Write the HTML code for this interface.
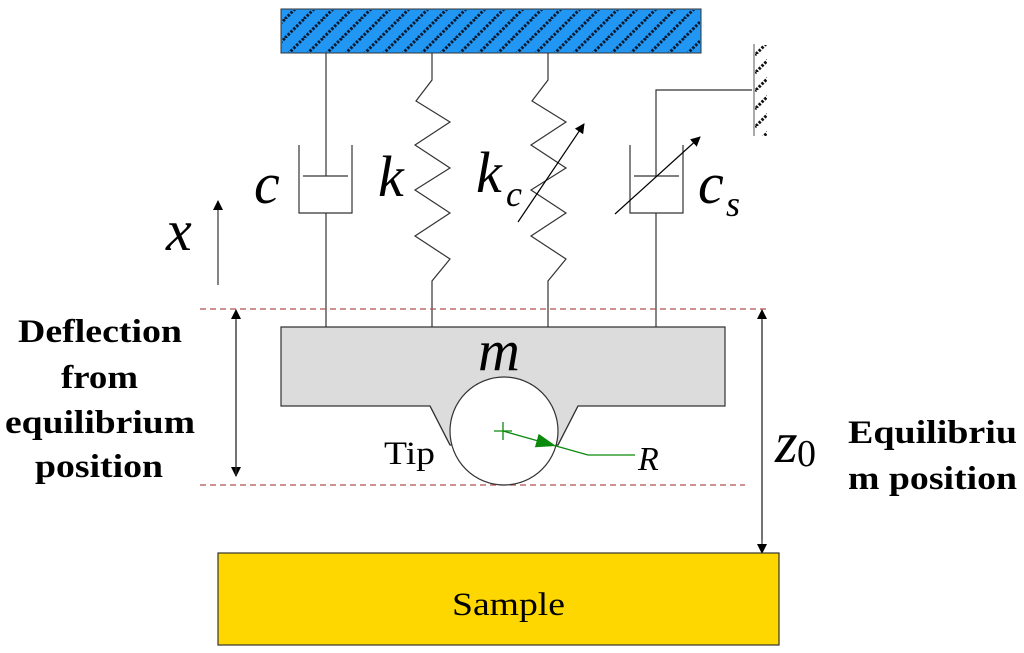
<!DOCTYPE html>
<html><head><meta charset="utf-8"><style>
html,body{margin:0;padding:0;background:#fff;}
svg{display:block;}
text{font-family:"Liberation Serif",serif;}
</style></head><body>
<svg width="1024" height="653" viewBox="0 0 1024 653" xmlns="http://www.w3.org/2000/svg">
<defs>
<pattern id="h" patternUnits="userSpaceOnUse" width="19" height="19">
<line x1="0" y1="19" x2="19" y2="0" stroke="#0a1a30" stroke-width="3" stroke-dasharray="2.5 1.5"/>
<line x1="-19" y1="19" x2="0" y2="0" stroke="#0a1a30" stroke-width="3" stroke-dasharray="2.5 1.5"/>
<line x1="19" y1="19" x2="38" y2="0" stroke="#0a1a30" stroke-width="3" stroke-dasharray="2.5 1.5"/>
</pattern>
<pattern id="w" patternUnits="userSpaceOnUse" width="18" height="18">
<line x1="0" y1="18" x2="18" y2="0" stroke="#111" stroke-width="3" stroke-dasharray="2.5 1.5"/>
<line x1="-18" y1="18" x2="0" y2="0" stroke="#111" stroke-width="3" stroke-dasharray="2.5 1.5"/>
<line x1="18" y1="18" x2="36" y2="0" stroke="#111" stroke-width="3" stroke-dasharray="2.5 1.5"/>
</pattern>
<marker id="a" markerWidth="10" markerHeight="10" refX="9" refY="5" orient="auto" markerUnits="userSpaceOnUse"><path d="M0,0 L10,5 L0,10 z" fill="#000"/></marker>
<marker id="g" markerWidth="22" markerHeight="14" refX="20" refY="7" orient="auto" markerUnits="userSpaceOnUse"><path d="M0,0 L20,7 L0,14 z" fill="#0a8a0a"/></marker>
</defs>
<rect x="281" y="9" width="420" height="44" fill="#2196f3" stroke="#333" stroke-width="1"/>
<rect x="282" y="10" width="418" height="42" fill="url(#h)"/>
<rect x="755" y="45" width="12" height="91" fill="url(#w)"/>
<line x1="754" y1="44" x2="754" y2="136" stroke="#555" stroke-width="1"/>
<g stroke="#333" stroke-width="1.2" fill="none">
<line x1="326" y1="53" x2="326" y2="176"/>
<polyline points="299,145 299,213 352,213 352,145"/>
<line x1="303" y1="176" x2="348" y2="176"/>
<line x1="326" y1="213" x2="326" y2="327"/>
<polyline points="432,53 432,80 416,101 450,122 415,145 450,168 415,190 450,213 415,236 450,259 432,281 432,327"/>
<polyline points="548,53 548,80 532,101 566,122 531,145 566,168 531,190 566,213 531,236 566,259 548,281 548,327"/>
<polyline points="752,90 656,90 656,176"/>
<polyline points="630,145 630,213 683,213 683,145"/>
<line x1="634" y1="176" x2="679" y2="176"/>
<line x1="656" y1="213" x2="656" y2="327"/>
</g>
<line x1="518" y1="222" x2="584" y2="124" stroke="#000" stroke-width="1.2" marker-end="url(#a)"/>
<line x1="615" y1="214" x2="700" y2="137" stroke="#000" stroke-width="1.2" marker-end="url(#a)"/>
<line x1="200" y1="309" x2="768" y2="309" stroke="#b05050" stroke-width="1.2" stroke-dasharray="6 4"/>
<line x1="200" y1="485" x2="745" y2="485" stroke="#b05050" stroke-width="1.2" stroke-dasharray="6 4"/>
<path d="M281,327 H725 V406 H578 L558,445 L450,445 L430,406 H281 Z" fill="#dcdcdc" stroke="#333" stroke-width="1.2"/>
<circle cx="504" cy="431" r="54" fill="#fff" stroke="#333" stroke-width="1.2"/>
<path d="M430,406 L450,445" stroke="#333" stroke-width="1.2"/>
<path d="M578,406 L558,445" stroke="#333" stroke-width="1.2"/>
<g stroke="#0a8a0a" stroke-width="1.3" fill="none">
<line x1="494" y1="431" x2="512" y2="431"/>
<line x1="503" y1="422" x2="503" y2="440"/>
<line x1="503" y1="431" x2="556" y2="446" marker-end="url(#g)"/>
<polyline points="556,446 588,455 635,455"/>
</g>
<line x1="218" y1="285" x2="218" y2="201" stroke="#333" stroke-width="1.2" marker-end="url(#a)"/>
<line x1="236" y1="320" x2="236" y2="476" stroke="#333" stroke-width="1.2" marker-end="url(#a)"/>
<line x1="236" y1="475" x2="236" y2="310" stroke="#333" stroke-width="1.2" marker-end="url(#a)"/>
<line x1="762" y1="540" x2="762" y2="310" stroke="#333" stroke-width="1.2" marker-end="url(#a)"/>
<line x1="762" y1="320" x2="762" y2="553" stroke="#333" stroke-width="1.2" marker-end="url(#a)"/>
<rect x="218" y="553" width="561" height="92" fill="#ffd700" stroke="#333" stroke-width="1.2"/>
<text x="452" y="615" font-size="33" textLength="113" lengthAdjust="spacingAndGlyphs">Sample</text>
<g font-style="italic" font-size="58">
<text x="254" y="203">c</text>
<text x="378" y="196">k</text>
<text x="476" y="192">k</text>
<text x="506" y="206" font-size="36">c</text>
<text x="698" y="203">c</text>
<text x="726" y="216" font-size="36">s</text>
<text x="166" y="250">x</text>
<text x="478" y="370">m</text>
<text x="775" y="462">z</text>
<text x="638" y="470" font-size="34">R</text>
</g>
<text x="797" y="466" font-size="38">0</text>
<text x="384" y="464" font-size="33" textLength="51" lengthAdjust="spacingAndGlyphs">Tip</text>
<g font-weight="bold" font-size="33" lengthAdjust="spacingAndGlyphs">
<text x="18" y="342" textLength="164" lengthAdjust="spacingAndGlyphs">Deflection</text>
<text x="61" y="388" textLength="77" lengthAdjust="spacingAndGlyphs">from</text>
<text x="5" y="433" textLength="190" lengthAdjust="spacingAndGlyphs">equilibrium</text>
<text x="35" y="477" textLength="128" lengthAdjust="spacingAndGlyphs">position</text>
<text x="848" y="443" textLength="169" lengthAdjust="spacingAndGlyphs">Equilibriu</text>
<text x="848" y="489" textLength="169" lengthAdjust="spacingAndGlyphs">m position</text>
</g>
</svg>
</body></html>
